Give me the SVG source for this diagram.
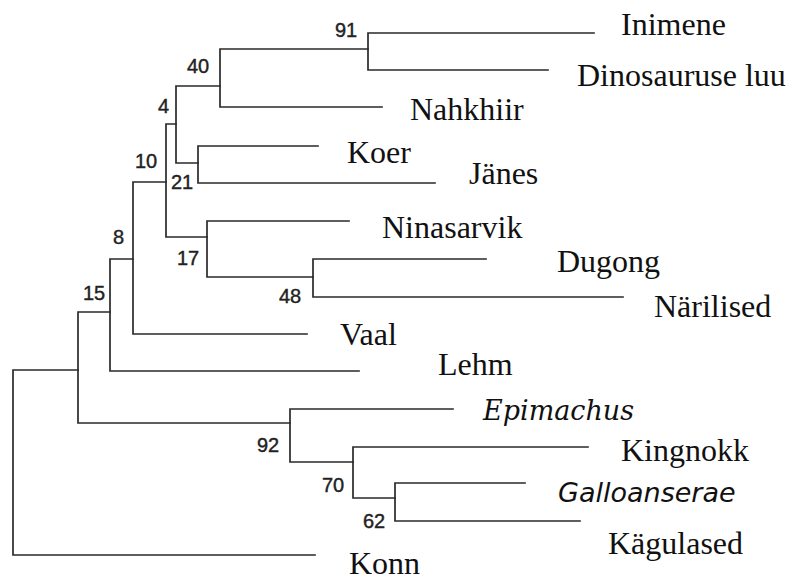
<svg xmlns="http://www.w3.org/2000/svg" width="803" height="580" viewBox="0 0 803 580">
<style>
.br{fill:none;stroke:#2a2a2a;stroke-width:1.7;stroke-linecap:square}
.lb{font-family:"Liberation Serif","Times New Roman",serif;font-size:32px;fill:#111}
.ep{font-family:"DejaVu Serif",serif;font-style:italic;font-size:27px;fill:#111}
.ga{font-family:"DejaVu Sans",sans-serif;font-style:italic;font-size:27px;fill:#111}
.bs{font-family:"Liberation Sans",Arial,sans-serif;font-size:20px;fill:#222;stroke:#222;stroke-width:0.4}
</style>
<rect width="803" height="580" fill="#fff"/>
<g id="connectors">
<path class="br" d="M13,370 V555 M13,370 H78 M13,555 H315"/>
<path class="br" d="M78,312 V423 M78,312 H110 M78,423 H290"/>
<path class="br" d="M110,259 V371 M110,259 H133 M110,371 H359"/>
<path class="br" d="M133,182 V334 M133,182 H166 M133,334 H307"/>
<path class="br" d="M166,124 V237 M166,124 H176 M166,237 H207"/>
<path class="br" d="M176,86 V163 M176,86 H220 M176,163 H198"/>
<path class="br" d="M220,49 V107 M220,49 H368 M220,107 H382"/>
<path class="br" d="M368,33 V70 M368,33 H594 M368,70 H548"/>
<path class="br" d="M198,146 V183 M198,146 H318 M198,183 H435"/>
<path class="br" d="M207,221 V277 M207,221 H349 M207,277 H313"/>
<path class="br" d="M313,259 V297 M313,259 H486 M313,297 H623"/>
<path class="br" d="M290,409 V462 M290,409 H453 M290,462 H353"/>
<path class="br" d="M353,447 V498 M353,447 H588 M353,498 H395"/>
<path class="br" d="M395,483 V521 M395,483 H525 M395,521 H580"/>
</g>
<g id="support">
<text class="bs" x="335" y="37">91</text>
<text class="bs" x="187" y="73">40</text>
<text class="bs" x="158" y="113">4</text>
<text class="bs" x="135" y="168">10</text>
<text class="bs" x="171" y="189">21</text>
<text class="bs" x="113" y="244">8</text>
<text class="bs" x="177" y="265">17</text>
<text class="bs" x="279" y="303">48</text>
<text class="bs" x="83" y="300">15</text>
<text class="bs" x="257" y="452">92</text>
<text class="bs" x="322" y="492">70</text>
<text class="bs" x="363" y="528">62</text>
</g>
<g id="n-inimene"><text class="lb" x="621" y="35">Inimene</text></g>
<g id="n-dino"><text class="lb" x="577" y="86">Dinosauruse luu</text></g>
<g id="n-nahkhiir"><text class="lb" x="410" y="120">Nahkhiir</text></g>
<g id="n-koer"><text class="lb" x="347" y="163">Koer</text></g>
<g id="n-janes"><text class="lb" x="469" y="184">Jänes</text></g>
<g id="n-ninasarvik"><text class="lb" x="382" y="238">Ninasarvik</text></g>
<g id="n-dugong"><text class="lb" x="557" y="272">Dugong</text></g>
<g id="n-narilised"><text class="lb" x="654" y="317">Närilised</text></g>
<g id="n-vaal"><text class="lb" x="340" y="345">Vaal</text></g>
<g id="n-lehm"><text class="lb" x="438" y="375">Lehm</text></g>
<g id="n-epimachus"><text class="ep" x="483" y="420">Epimachus</text></g>
<g id="n-kingnokk"><text class="lb" x="621" y="461">Kingnokk</text></g>
<g id="n-galloanserae"><text class="ga" x="558" y="502">Galloanserae</text></g>
<g id="n-kagulased"><text class="lb" x="608" y="554">Kägulased</text></g>
<g id="n-konn"><text class="lb" x="349" y="574">Konn</text></g>
</svg>
